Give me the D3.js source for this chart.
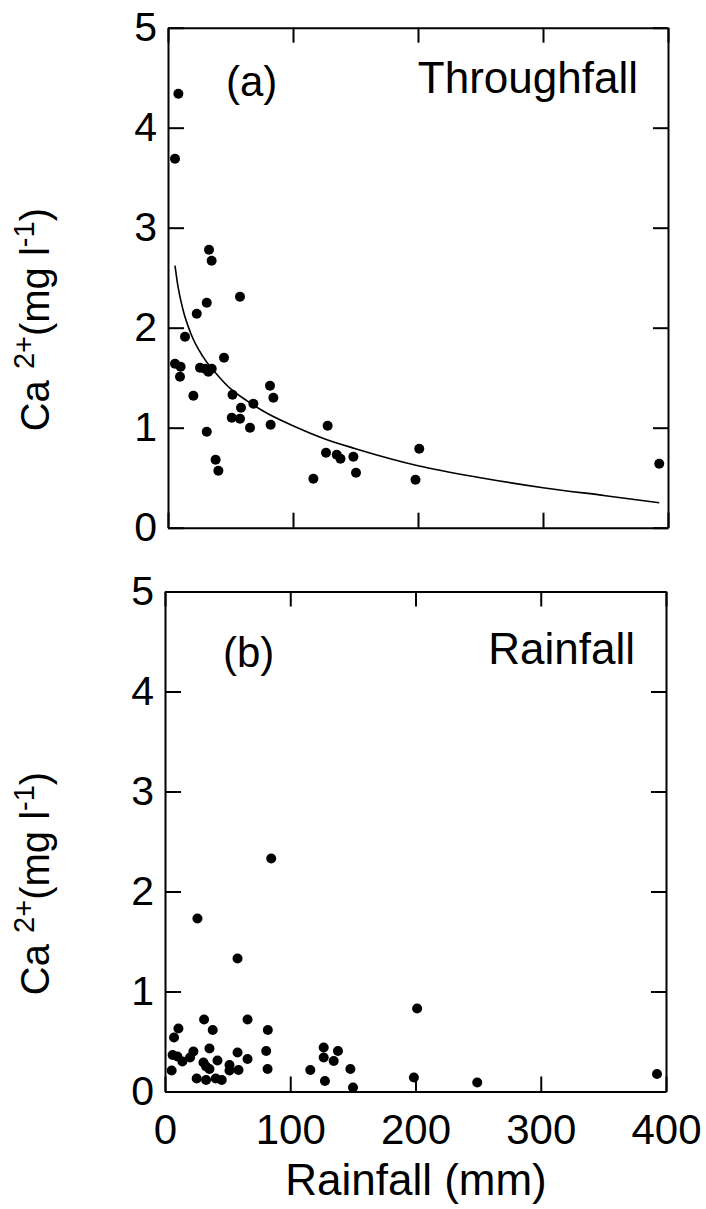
<!DOCTYPE html>
<html>
<head>
<meta charset="utf-8">
<script src="https://cdn.jsdelivr.net/npm/d3@7"></script>
<style>
  body { margin: 0; background: #fff; }
  text { font-family: "Liberation Sans", Arial, sans-serif; fill: #000; }
  .axis path, .axis line { stroke: #000; stroke-width: 2; }
</style>
</head>
<body>
<div id="chart"></div>
<script>
// (a) throughfall: rainfall (mm) vs Ca2+ (mg/l)
var tfRain = [8.3, 5.6, 32.8, 34.9, 57.6, 31, 23, 13.6, 44.8, 5.6, 10.1, 9.6, 25.6, 29.6, 32.3, 35,
  81.6, 84.3, 20.3, 51.6, 58.4, 68.3, 51, 57.6, 65.6, 82.1, 31, 38.1, 40.3,
  127.7, 126.4, 135, 138, 148.3, 150.4, 116.3, 201, 198, 393];
var tfCa = [4.34, 3.69, 2.78, 2.67, 2.31, 2.25, 2.14, 1.91, 1.70, 1.64, 1.61, 1.51, 1.60, 1.59, 1.56, 1.59,
  1.42, 1.30, 1.32, 1.33, 1.20, 1.24, 1.10, 1.09, 1.00, 1.03, 0.96, 0.68, 0.57,
  1.02, 0.75, 0.73, 0.69, 0.71, 0.55, 0.49, 0.79, 0.48, 0.64];

// fitted curve in (a)
var fitRain = [5.6, 8, 12, 18, 28, 40, 50, 63, 80, 100, 125, 150, 200, 250, 300, 350, 393];
var fitCa = [2.62, 2.41, 2.18, 1.95, 1.71, 1.52, 1.39, 1.27, 1.14, 1.02, 0.89, 0.79, 0.62, 0.50, 0.40, 0.32, 0.25];

// (b) rainfall
var rfRain = [5.3, 7.2, 10.7, 6.1, 9.9, 13.9, 20, 22.7, 31.2, 38.1, 35.5, 25.3, 32.8, 30.7, 32.8, 35.5,
  41.9, 40.5, 45.3, 51.5, 51.5, 58.7, 57.9, 65.9, 65.9, 82.1, 80.8, 81.9, 116, 126.7, 126.7,
  138.1, 134.7, 127.7, 148, 150.1, 201.3, 198.7, 249.3, 392.8, 84.8, 25.9, 57.9];
var rfCa = [0.21, 0.54, 0.63, 0.365, 0.35, 0.30, 0.34, 0.40, 0.72, 0.615, 0.43, 0.13, 0.115, 0.29, 0.25, 0.225,
  0.31, 0.13, 0.115, 0.265, 0.21, 0.215, 0.39, 0.72, 0.325, 0.615, 0.405, 0.225, 0.215, 0.44, 0.34,
  0.405, 0.305, 0.105, 0.225, 0.04, 0.83, 0.14, 0.09, 0.175, 2.33, 1.73, 1.33];

var xTicks = [0, 100, 200, 300, 400];
var yTicks = [0, 1, 2, 3, 4, 5];

var svg = d3.select("#chart")
    .append("svg")
    .attr("width", 706)
    .attr("height", 1209);

function drawPanel(left, top, w, rain, ca, tag, name, tagY, showX) {
  var h = 500;
  var x = d3.scaleLinear().domain([0, 400]).range([0, w]);
  var y = d3.scaleLinear().domain([0, 5]).range([h, 0]);
  var g = svg.append("g").attr("transform", "translate(" + left + "," + top + ")");

  g.append("g").attr("class", "axis")
      .call(d3.axisLeft(y).tickValues(yTicks).tickFormat(d3.format("d"))
        .tickSize(-16).tickSizeOuter(0).tickPadding(11))
      .selectAll("text").attr("font-size", 41).attr("font-family", null);
  g.append("g").attr("class", "axis")
      .attr("transform", "translate(" + w + ",0)")
      .call(d3.axisRight(y).tickValues(yTicks).tickSize(-15).tickSizeOuter(0).tickFormat(""));
  g.append("g").attr("class", "axis")
      .call(d3.axisTop(x).tickValues(xTicks).tickSize(-15).tickSizeOuter(0).tickFormat(""));
  var xa = g.append("g").attr("class", "axis")
      .attr("transform", "translate(0," + h + ")")
      .call(d3.axisBottom(x).tickValues(xTicks).tickFormat(d3.format("d"))
        .tickSize(-15).tickSizeOuter(0).tickPadding(23));
  if (showX) {
    xa.selectAll("text").attr("font-size", 42).attr("font-family", null);
  } else {
    xa.selectAll("text").remove();
  }

  g.selectAll("circle")
      .data(d3.zip(rain, ca)).enter().append("circle")
      .attr("r", 5)
      .attr("fill", "#000")
      .attr("cx", d => x(d[0]))
      .attr("cy", d => y(d[1]));

  g.append("text")
      .attr("x", 58).attr("y", tagY)
      .attr("font-size", 42)
      .text(tag);
  g.append("text")
      .attr("x", 470).attr("y", tagY - 3)
      .attr("text-anchor", "end")
      .attr("font-size", 44)
      .text(name);

  // y title, rotated
  var t = svg.append("text")
      .attr("transform", "translate(" + 49 + "," + (top + 292) + ") rotate(-90)")
      .attr("text-anchor", "middle")
      .attr("font-size", 40);
  t.append("tspan").text("Ca  ");
  t.append("tspan").attr("font-size", 29).attr("dy", -15).text("2+");
  t.append("tspan").attr("dy", 15).text("(mg l");
  t.append("tspan").attr("font-size", 29).attr("dy", -15).text("-1");
  t.append("tspan").attr("dy", 15).text(")");

  return { g: g, x: x, y: y };
}

var pa = drawPanel(168, 27.7, 500, tfRain, tfCa, "(a)", "Throughfall", 68, false);

var fitLine = d3.line()
    .x(d => pa.x(d[0]))
    .y(d => pa.y(d[1]))
    .curve(d3.curveMonotoneX);
pa.g.append("path")
    .datum(d3.zip(fitRain, fitCa))
    .attr("fill", "none")
    .attr("stroke", "#000")
    .attr("stroke-width", 1.6)
    .attr("d", fitLine);

drawPanel(165, 591.5, 501, rfRain, rfCa, "(b)", "Rainfall", 75.5, true);

svg.append("text")
    .attr("x", 416).attr("y", 1195)
    .attr("text-anchor", "middle")
    .attr("font-size", 44)
    .text("Rainfall (mm)");
</script>
</body>
</html>
